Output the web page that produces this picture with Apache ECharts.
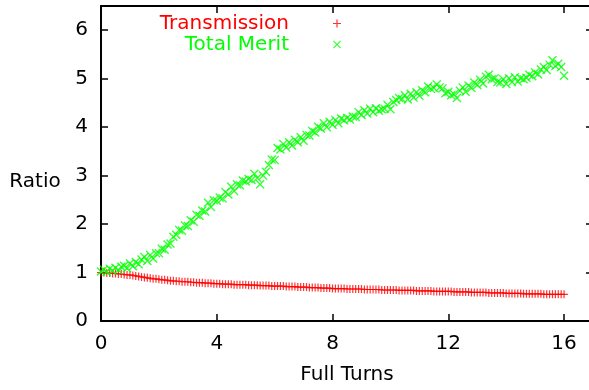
<!DOCTYPE html>
<html>
<head>
<meta charset="utf-8">
<script src="https://cdn.jsdelivr.net/npm/echarts@6/dist/echarts.min.js"></script>
<style>
  html, body { margin: 0; padding: 0; background: #fff; }
  #chart { width: 589px; height: 390px; }
</style>
</head>
<body>
<div id="chart"></div>
<script>
// samples are taken every 0.1 full turn, from 0 to 16
const turnStep = 0.1;

const transmission = [
  1.00, 1.00, 0.99, 0.99, 0.98, 0.98, 0.97, 0.97, 0.96, 0.95,
  0.95, 0.94, 0.93, 0.92, 0.91, 0.90, 0.89, 0.88, 0.87, 0.87,
  0.86, 0.85, 0.85, 0.84, 0.83, 0.83, 0.82, 0.82, 0.81, 0.81,
  0.81, 0.80, 0.80, 0.79, 0.79, 0.79, 0.78, 0.78, 0.78, 0.77,
  0.77, 0.77, 0.76, 0.76, 0.76, 0.76, 0.75, 0.75, 0.75, 0.75,
  0.75, 0.74, 0.74, 0.74, 0.74, 0.73, 0.73, 0.73, 0.73, 0.72,
  0.72, 0.72, 0.72, 0.72, 0.71, 0.71, 0.71, 0.71, 0.70, 0.70,
  0.70, 0.70, 0.69, 0.69, 0.69, 0.69, 0.68, 0.68, 0.68, 0.68,
  0.67, 0.67, 0.67, 0.67, 0.67, 0.66, 0.66, 0.66, 0.66, 0.66,
  0.66, 0.65, 0.65, 0.65, 0.65, 0.65, 0.65, 0.64, 0.64, 0.64,
  0.64, 0.64, 0.64, 0.63, 0.63, 0.63, 0.63, 0.63, 0.63, 0.62,
  0.62, 0.62, 0.62, 0.62, 0.62, 0.61, 0.61, 0.61, 0.61, 0.61,
  0.61, 0.61, 0.60, 0.60, 0.60, 0.60, 0.60, 0.60, 0.59, 0.59,
  0.59, 0.59, 0.59, 0.59, 0.58, 0.58, 0.58, 0.58, 0.58, 0.58,
  0.57, 0.57, 0.57, 0.57, 0.57, 0.57, 0.56, 0.56, 0.56, 0.56,
  0.56, 0.56, 0.56, 0.55, 0.55, 0.55, 0.55, 0.55, 0.55, 0.55,
  0.55
];

const totalMerit = [
  1.02, 1.06, 1.01, 1.08, 1.04, 1.10, 1.05, 1.12, 1.14, 1.09,
  1.19, 1.13, 1.22, 1.17, 1.27, 1.32, 1.24, 1.36, 1.29, 1.40,
  1.40, 1.49, 1.47, 1.58, 1.60, 1.74, 1.78, 1.88, 1.86, 1.97,
  1.96, 2.08, 2.05, 2.19, 2.17, 2.28, 2.26, 2.44, 2.35, 2.49,
  2.48, 2.55, 2.53, 2.66, 2.61, 2.77, 2.68, 2.82, 2.80, 2.90,
  2.88, 2.93, 2.91, 3.04, 2.95, 2.82, 3.00, 3.08, 3.22, 3.33,
  3.32, 3.57, 3.54, 3.65, 3.58, 3.69, 3.62, 3.74, 3.69, 3.79,
  3.72, 3.84, 3.83, 3.92, 3.89, 4.01, 3.97, 4.08, 4.00, 4.11,
  4.05, 4.15, 4.08, 4.18, 4.14, 4.19, 4.16, 4.22, 4.21, 4.31,
  4.25, 4.35, 4.28, 4.38, 4.31, 4.39, 4.34, 4.37, 4.38, 4.46,
  4.37, 4.52, 4.56, 4.60, 4.58, 4.66, 4.57, 4.69, 4.61, 4.72,
  4.65, 4.76, 4.72, 4.84, 4.79, 4.81, 4.88, 4.82, 4.80, 4.70,
  4.73, 4.66, 4.68, 4.60, 4.75, 4.82, 4.73, 4.86, 4.81, 4.92,
  4.87, 4.98, 4.90, 5.04, 5.08, 4.99, 5.01, 4.93, 4.92, 4.99,
  4.89, 5.01, 4.93, 5.03, 4.94, 5.01, 4.99, 5.02, 5.08, 5.05,
  5.13, 5.09, 5.19, 5.24, 5.18, 5.29, 5.38, 5.26, 5.31, 5.24,
  5.06
];

const seriesNames = ['Transmission', 'Total Merit'];
const seriesColors = ['#ff0000', '#00ff00'];

const font = 'DejaVu Sans';

// gnuplot style point markers (+ and x)
const plusSymbol = 'path://M3.4,0H4.6V3.4H8V4.6H4.6V8H3.4V4.6H0V3.4H3.4Z';
const crossSymbol = 'path://M0,0.85L0.85,0L4,3.15L7.15,0L8,0.85L4.85,4L8,7.15L7.15,8L4,4.85L0.85,8L0,7.15L3.15,4Z';

function toPoints(values) {
  let pts = [];
  for (let i = 0; i < values.length; i++) {
    pts.push([+(i * turnStep).toFixed(1), values[i]]);
  }
  return pts;
}

let chart = echarts.init(document.getElementById('chart'), null, { renderer: 'canvas' });

let axisLine = { show: true, onZero: false, lineStyle: { color: '#000', width: 2 } };
let axisTick = { show: true, inside: true, length: 7, lineStyle: { color: '#000', width: 1.5 } };

let option = {
  animation: false,
  backgroundColor: '#fff',
  grid: {
    left: 101,
    right: -4,
    top: 6,
    bottom: 69,
    outerBoundsMode: 'none'
  },
  legend: {
    orient: 'vertical',
    align: 'right',
    right: 248,
    top: 13,
    padding: 0,
    itemGap: 0,
    itemWidth: 8,
    itemHeight: 8,
    data: [
      { name: seriesNames[0], textStyle: { color: seriesColors[0] } },
      { name: seriesNames[1], textStyle: { color: seriesColors[1] } }
    ],
    textStyle: {
      fontFamily: font,
      fontSize: 20,
      lineHeight: 21,
      padding: [0, 39, 0, 0]
    }
  },
  graphic: [
    {
      type: 'text',
      x: 35,
      y: 182,
      style: {
        text: 'Ratio',
        fill: '#000',
        font: '20px "DejaVu Sans"',
        textAlign: 'center',
        textVerticalAlign: 'middle'
      }
    }
  ],
  xAxis: [
    {
      type: 'value',
      position: 'bottom',
      min: 0,
      max: 17,
      interval: 4,
      axisLine: axisLine,
      axisTick: axisTick,
      splitLine: { show: false },
      axisLabel: {
        margin: 13,
        color: '#000',
        fontFamily: font,
        fontSize: 20,
        showMaxLabel: false
      },
      name: 'Full Turns',
      nameLocation: 'middle',
      nameGap: 44,
      nameTextStyle: { color: '#000', fontFamily: font, fontSize: 20 }
    },
    {
      type: 'value',
      position: 'top',
      min: 0,
      max: 17,
      interval: 4,
      axisLine: axisLine,
      axisTick: axisTick,
      splitLine: { show: false },
      axisLabel: { show: false }
    }
  ],
  yAxis: [
    {
      type: 'value',
      position: 'left',
      min: 0,
      max: 6.5,
      interval: 1,
      axisLine: axisLine,
      axisTick: axisTick,
      splitLine: { show: false },
      axisLabel: {
        margin: 13,
        color: '#000',
        fontFamily: font,
        fontSize: 20,
        showMaxLabel: false
      }
    },
    {
      type: 'value',
      position: 'right',
      min: 0,
      max: 6.5,
      interval: 1,
      axisLine: axisLine,
      axisTick: axisTick,
      splitLine: { show: false },
      axisLabel: { show: false }
    }
  ],
  series: [
    {
      name: seriesNames[0],
      type: 'scatter',
      symbol: plusSymbol,
      symbolSize: 8,
      itemStyle: { color: seriesColors[0] },
      data: toPoints(transmission)
    },
    {
      name: seriesNames[1],
      type: 'scatter',
      symbol: crossSymbol,
      symbolSize: 9,
      itemStyle: { color: seriesColors[1] },
      data: toPoints(totalMerit)
    }
  ]
};

chart.setOption(option);
window.addEventListener('resize', () => {
  chart.resize();
});
</script>
</body>
</html>
